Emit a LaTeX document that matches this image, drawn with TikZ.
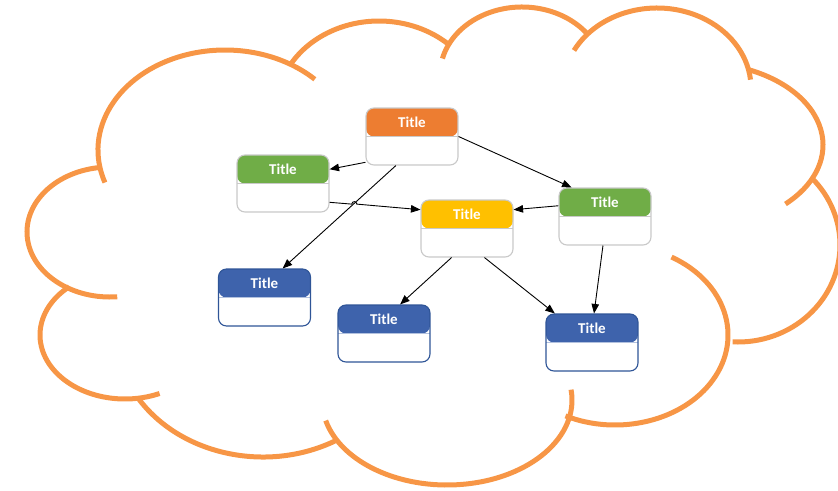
\documentclass[tikz,border=0pt]{standalone}
\usepackage{fontspec}
\setmainfont{Carlito}
\usetikzlibrary{arrows.meta,calc}

\definecolor{cloudor}{HTML}{F79646}
\definecolor{hdorange}{HTML}{ED7D31}
\definecolor{hdgreen}{HTML}{70AD47}
\definecolor{hdyellow}{HTML}{FFC000}
\definecolor{hdblue}{HTML}{3E63AC}
\definecolor{lnblue}{HTML}{2F5597}
\definecolor{lngray}{HTML}{C9C9C9}

\begin{document}
\begin{tikzpicture}[
  x=1pt, y=-1pt,
  >={Triangle[length=9.5pt,width=7.5pt]},
  cloud/.style={draw=cloudor, line width=5pt},
  card/.style={draw=#1, rectangle, rounded corners=8pt, fill=white,
               minimum width=92pt, minimum height=57pt, inner sep=0pt,
               line width=1.1pt},
  head/.style n args={2}{path picture={
      \fill[#1] (path picture bounding box.north west)
        rectangle ([yshift=-28.5pt]path picture bounding box.north east);
      \draw[#2, line width=0.8pt] ([yshift=-28.5pt]path picture bounding box.north west)
        -- ([yshift=-28.5pt]path picture bounding box.north east);}},
  ttl/.style={text=white, font=\bfseries\fontsize{15}{18}\selectfont,
              anchor=center, yshift=-14.5pt},
  arr/.style={->, line width=0.9pt, black},
]
\clip (0,0) rectangle (838,490);

% ---------- cloud outline (lobes clockwise from the left) ----------
\draw[cloud] ([shift={(262:83 and 65)}]110,232) arc[start angle=262, end angle=85, x radius=83, y radius=65];
\draw[cloud] ([shift={(161:127 and 100)}]225,150) arc[start angle=161, end angle=315, x radius=127, y radius=100];
\draw[cloud] ([shift={(212:103 and 89)}]379,110) arc[start angle=212, end angle=312, x radius=103, y radius=89];
\draw[cloud] ([shift={(194:82 and 68)}]522,75) arc[start angle=194, end angle=322, x radius=82, y radius=68];
\draw[cloud] ([shift={(208:94 and 80)}]657,88) arc[start angle=208, end angle=354, x radius=94, y radius=80];
\draw[cloud] ([shift={(293:123 and 82)}]700,145) arc[start angle=293, end angle=406, x radius=123, y radius=82];
\draw[cloud] ([shift={(316:102 and 97)}]738,245) arc[start angle=316, end angle=453, x radius=102, y radius=97];
\draw[cloud] ([shift={(300:113 and 90)}]615,335) arc[start angle=300, end angle=476, x radius=113, y radius=90];
\draw[cloud] ([shift={(-7:125 and 85)}]447,400) arc[start angle=-7, end angle=166, x radius=125, y radius=85];
\draw[cloud] ([shift={(148:148 and 127)}]263,330) arc[start angle=148, end angle=60, x radius=148, y radius=127];
\draw[cloud] ([shift={(229:85 and 64)}]125,335) arc[start angle=229, end angle=66, x radius=85, y radius=64];

% ---------- entity cards ----------
\node[card=lngray, head={hdorange}{lngray}, label={[ttl]north:Title}] (root) at (412,136.5) {};
\node[card=lngray, head={hdgreen}{lngray}, label={[ttl]north:Title}] (gleft) at (283,183.5) {};
\node[card=lngray, head={hdyellow}{lngray}, label={[ttl]north:Title}] (hub) at (467,228.5) {};
\node[card=lngray, head={hdgreen}{lngray}, label={[ttl]north:Title}] (gright) at (605,216.5) {};
\node[card=lnblue, head={hdblue}{hdblue!40}, label={[ttl]north:Title}] (bleft) at (264.5,297.5) {};
\node[card=lnblue, head={hdblue}{hdblue!40}, label={[ttl]north:Title}] (bmid) at (384,333.5) {};
\node[card=lnblue, head={hdblue}{hdblue!40}, label={[ttl]north:Title}] (bright) at (592,342.5) {};

% ---------- connectors ----------
\draw[arr] (root.209) -- (gleft.17);
\draw[arr] (root.241) -- (bleft.58);
\draw[arr] (root.east) -- (gright.139);
\draw[arr] (gleft.338) -- ($(gleft.338)!0.245!(hub.158)$)
  arc[start angle=180, end angle=360, radius=2.5] -- (hub.158);
\draw[arr] (gright.167) -- (hub.22);
\draw[arr] (hub.242) -- (bmid.61);
\draw[arr] (hub.301) -- (bright.142);
\draw[arr] (gright.266) -- (bright.86);

\end{tikzpicture}
\end{document}
